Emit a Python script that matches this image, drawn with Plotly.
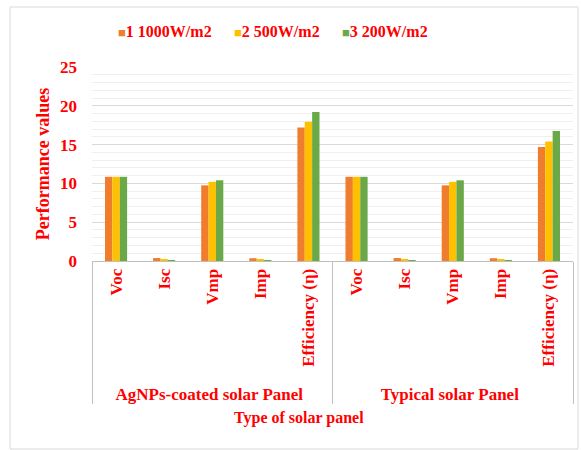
import plotly.graph_objects as go

# Panel groups and measured parameters
panels = ["AgNPs-coated solar Panel"] * 5 + ["Typical solar Panel"] * 5
params = ["Voc", "Isc", "Vmp", "Imp", "Efficiency (η)"] * 2

# Performance values at each irradiance level
irr_1000 = [10.85, 0.38, 9.75, 0.36, 17.2, 10.85, 0.38, 9.75, 0.36, 14.7]
irr_500 = [10.85, 0.18, 10.2, 0.17, 17.95, 10.85, 0.18, 10.2, 0.17, 15.4]
irr_200 = [10.85, 0.06, 10.4, 0.06, 19.2, 10.85, 0.06, 10.4, 0.06, 16.75]

series_names = ["1 1000W/m2", "2 500W/m2", "3 200W/m2"]
series_values = [irr_1000, irr_500, irr_200]
series_colors = ["#F07D2E", "#FFC000", "#6BA847"]

RED = "#FF0000"
FONT = "Liberation Serif"

# Pixel geometry of the plotting area inside the 581x450 canvas
W, H = 581, 450
L, R, T, B = 92, 8, 67, 189
PW, PH = W - L - R, H - T - B


def px(x):
    return (x - L) / PW


def py(y):
    return (H - B - y) / PH


fig = go.Figure()
for name, vals, color in zip(series_names, series_values, series_colors):
    fig.add_trace(go.Bar(
        x=[panels, params], y=vals, name=name, showlegend=False,
        marker=dict(color=color, line=dict(width=0)),
    ))

# Legend row: coloured square followed by the series name
legend_x = [116, 232, 340]
annotations = []
for x0, name, color in zip(legend_x, series_names, series_colors):
    annotations.append(dict(
        xref="paper", yref="paper", x=px(x0), y=py(32),
        xanchor="left", yanchor="middle", showarrow=False,
        text=f"<span style='font-size:13px;color:{color}'>■</span>{name}",
        font=dict(family=FONT, color=RED, size=16, weight="bold"),
    ))

# Axis title centred under the whole chart
annotations.append(dict(
    xref="paper", yref="paper", x=px(299), y=py(418),
    xanchor="center", yanchor="middle", showarrow=False,
    text="Type of solar panel",
    font=dict(family=FONT, color=RED, size=16, weight="bold"),
))

fig.update_layout(
    width=W, height=H,
    margin=dict(l=L, r=R, t=T, b=B, autoexpand=False),
    paper_bgcolor="white", plot_bgcolor="white",
    barmode="group", bargap=0.54, bargroupgap=0,
    font=dict(family=FONT, color=RED, size=14),
    annotations=annotations,
    shapes=[dict(
        type="rect", xref="paper", yref="paper",
        x0=px(10), x1=px(578), y0=py(449), y1=py(7),
        line=dict(color="#D9D9D9", width=1), fillcolor="rgba(0,0,0,0)", layer="below",
    )],
)

fig.update_xaxes(
    automargin=False,
    tickangle=-90,
    tickfont=dict(family=FONT, color=RED, size=17, weight="bold"),
    showline=True, linecolor="#BFBFBF", linewidth=1,
    showdividers=True, dividercolor="#BFBFBF", dividerwidth=1,
)
fig.update_yaxes(
    automargin=False,
    range=[0, 25], dtick=5,
    tickfont=dict(family=FONT, color=RED, size=17, weight="bold"),
    ticklabelstandoff=14,
    showgrid=True, gridcolor="#D9D9D9", gridwidth=1,
    minor=dict(dtick=1, showgrid=True, gridcolor="#EFEFEF", gridwidth=1),
    zeroline=False, showline=False,
    title=dict(text="Performance values", standoff=5,
               font=dict(family=FONT, color=RED, size=18, weight="bold")),
)

fig.write_html("out.html")
